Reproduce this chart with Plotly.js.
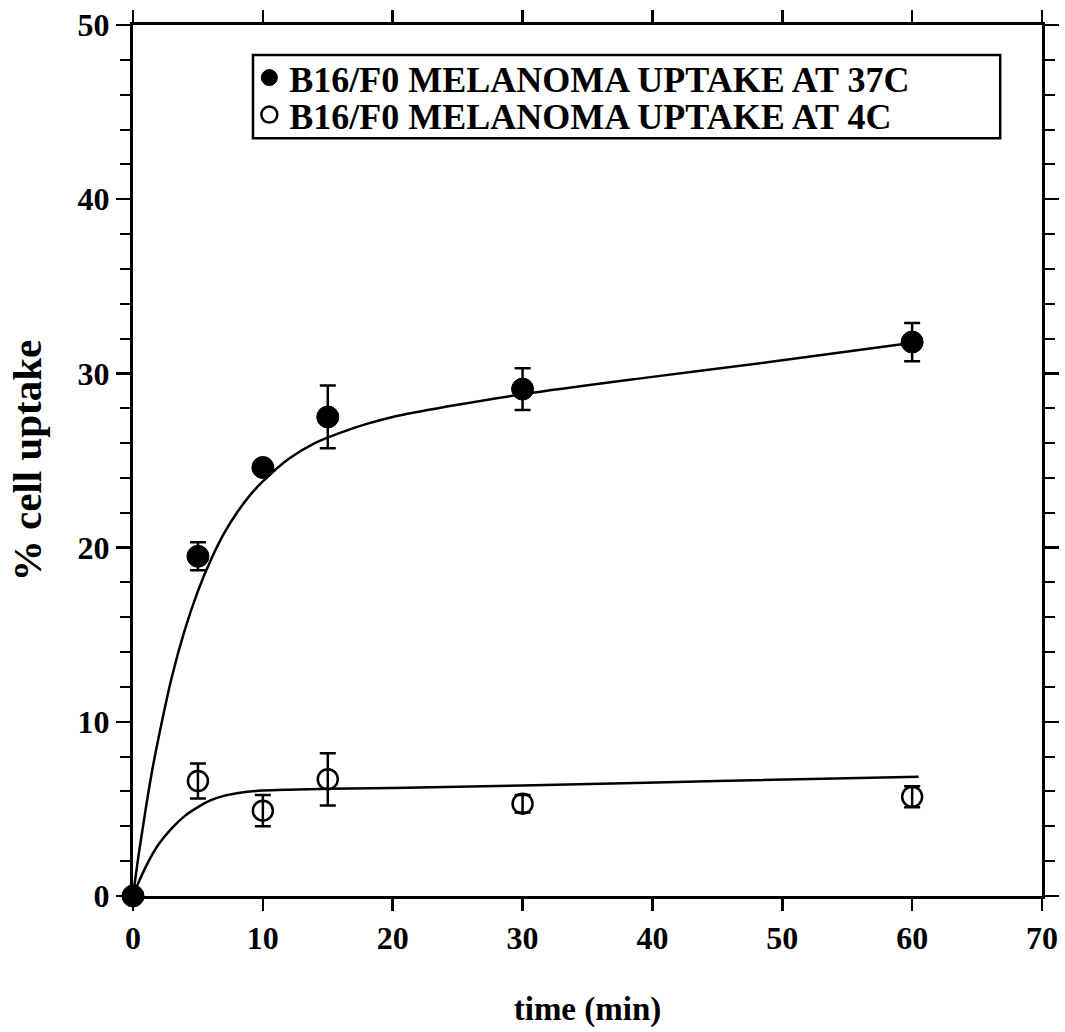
<!DOCTYPE html>
<html>
<head>
<meta charset="utf-8">
<script src="https://cdn.plot.ly/plotly-3.0.1.min.js"></script>
<style>html,body{margin:0;padding:0;background:#fff;}#chart{width:1065px;height:1032px;}</style>
</head>
<body>
<div id="chart"></div>
<script>
const timeMin = [0, 5, 10, 15, 30, 60];
const uptake37 = [0, 19.5, 24.6, 27.5, 29.1, 31.8];
const err37 = [0, 0.8, 0.3, 1.8, 1.2, 1.1];
const time4 = [5, 10, 15, 30, 60];
const uptake4 = [6.6, 4.9, 6.7, 5.3, 5.7];
const err4 = [1.0, 0.9, 1.5, 0.5, 0.6];

// Fitted curves
const fitX37 = [0, 0.5, 1, 1.5, 2, 3, 4, 5, 6, 7, 8, 9, 10, 12, 14, 16, 18, 20, 22, 25, 30, 40, 50, 60.5];
const fitY37 = [0, 2.7, 5.1, 7.3, 9.2, 12.6, 15.3, 17.5, 19.3, 20.8, 22.0, 23.0, 23.8, 25.1, 26.0, 26.6, 27.1, 27.5, 27.8, 28.2, 28.8, 29.8, 30.75, 31.8];
const fitX4 = [0, 0.5, 1, 1.5, 2, 3, 4, 5, 6, 7, 8, 9, 10, 12, 15, 20, 30, 45, 60.5];
const fitY4 = [0, 0.9, 1.7, 2.4, 3.0, 3.9, 4.6, 5.1, 5.5, 5.75, 5.9, 6.0, 6.05, 6.1, 6.15, 6.2, 6.35, 6.6, 6.85];

const legendNames = ["B16/F0 MELANOMA UPTAKE AT 37C", "B16/F0 MELANOMA UPTAKE AT 4C"];
const xTitle = "time (min)";
const yTitle = "% cell uptake";

const serif = "Liberation Serif, Times New Roman, serif";

const traces = [
  {x: fitX37, y: fitY37, mode: "lines", line: {color: "#000", width: 2.5, shape: "spline", smoothing: 1}, showlegend: false, hoverinfo: "skip"},
  {x: fitX4, y: fitY4, mode: "lines", line: {color: "#000", width: 2.5, shape: "spline", smoothing: 1}, showlegend: false, hoverinfo: "skip"},
  {x: timeMin, y: uptake37, name: legendNames[0], legend: "legend", mode: "markers", cliponaxis: false,
   marker: {symbol: "circle", size: 22, color: "#000", line: {color: "#000", width: 1}},
   error_y: {type: "data", array: err37, visible: true, color: "#000", thickness: 2.5, width: 8}},
  {x: time4, y: uptake4, name: legendNames[1], legend: "legend2", mode: "markers", cliponaxis: false,
   marker: {symbol: "circle-open", size: 20, color: "#000", line: {color: "#000", width: 2.5}},
   error_y: {type: "data", array: err4, visible: true, color: "#000", thickness: 2.5, width: 8}}
];

const legendFont = {family: serif, size: 36, color: "#000", weight: "bold"};
const layout = {
  width: 1065, height: 1032,
  margin: {l: 133, r: 23, t: 25, b: 136},
  paper_bgcolor: "#fff", plot_bgcolor: "#fff",
  font: {family: serif, color: "#000", size: 32},
  showlegend: true,
  legend: {
    x: 0.128, y: 0.9395, xanchor: "left", yanchor: "middle",
    bgcolor: "rgba(0,0,0,0)", borderwidth: 0, font: legendFont, itemwidth: 30
  },
  legend2: {
    x: 0.128, y: 0.897, xanchor: "left", yanchor: "middle",
    bgcolor: "rgba(0,0,0,0)", borderwidth: 0, font: legendFont, itemwidth: 30
  },
  shapes: [
    {type: "rect", xref: "paper", yref: "paper", x0: 0.132, x1: 0.954, y0: 0.87, y1: 0.9656,
     line: {color: "#000", width: 2.5}, fillcolor: "rgba(0,0,0,0)", layer: "below"}
  ],
  xaxis: {
    range: [0, 70], tickmode: "array", tickvals: [0, 10, 20, 30, 40, 50, 60, 70],
    ticks: "outside", ticklen: 12, tickwidth: 2.5, tickcolor: "#000",
    showline: true, linecolor: "#000", linewidth: 3, mirror: "ticks",
    showgrid: false, zeroline: false,
    tickfont: {family: serif, size: 32, weight: "bold"},
    title: {text: xTitle, font: {family: serif, size: 33, weight: "bold"}, standoff: 42}
  },
  yaxis: {
    range: [0, 50], tickmode: "array", tickvals: [0, 10, 20, 30, 40, 50],
    ticks: "outside", ticklen: 14, tickwidth: 2.5, tickcolor: "#000",
    minor: {dtick: 2, ticks: "outside", ticklen: 10, tickwidth: 2, tickcolor: "#000", showgrid: false},
    showline: true, linecolor: "#000", linewidth: 3, mirror: "ticks",
    showgrid: false, zeroline: false,
    tickfont: {family: serif, size: 32, weight: "bold"},
    title: {text: yTitle, font: {family: serif, size: 41, weight: "bold"}, standoff: 24}
  }
};

Plotly.newPlot("chart", traces, layout, {staticPlot: true, displayModeBar: false});
</script>
</body>
</html>
